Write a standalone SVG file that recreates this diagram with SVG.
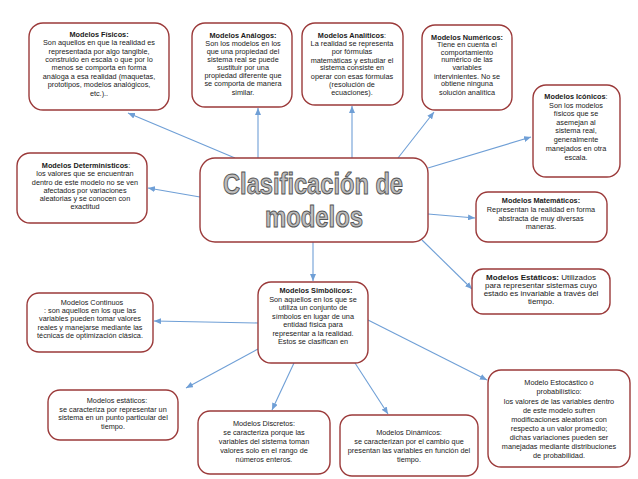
<svg xmlns="http://www.w3.org/2000/svg" width="638" height="479" viewBox="0 0 638 479">
<style>
.box{fill:#fff;stroke:#9b3a3a;stroke-width:1.4}
.t{font-family:"Liberation Sans",Arial,sans-serif;font-size:7.3px;fill:#1a1a1a;text-anchor:middle}
.a{font-size:8px}
.b{font-weight:bold}
.c{stroke:#6f9fd6;stroke-width:1.1;fill:none;marker-end:url(#arr)}
.title{font-family:"Liberation Sans",Arial,sans-serif;font-size:29px;font-weight:bold;fill:#bdbdbd;stroke:#555;stroke-width:1;text-anchor:middle}
</style>
<defs>
<marker id="arr" markerUnits="userSpaceOnUse" markerWidth="7" markerHeight="6" refX="7" refY="3" orient="auto">
<path d="M0,0 L7,3 L0,6 z" fill="#6f9fd6"/>
</marker>
</defs>
<rect width="638" height="479" fill="#fff"/>
<g id="connectors">
<line class="c" x1="235" y1="158" x2="128" y2="113"/>
<line class="c" x1="258" y1="158" x2="258" y2="108"/>
<line class="c" x1="352" y1="158" x2="352" y2="106"/>
<line class="c" x1="398" y1="158" x2="434" y2="112"/>
<line class="c" x1="428" y1="168" x2="531" y2="137"/>
<line class="c" x1="200" y1="197" x2="148" y2="188"/>
<line class="c" x1="428" y1="214" x2="475" y2="218"/>
<line class="c" x1="422" y1="240" x2="472" y2="289"/>
<line class="c" x1="313" y1="242" x2="313" y2="281"/>
<line class="c" x1="258" y1="323" x2="154" y2="321"/>
<line class="c" x1="258" y1="349" x2="186" y2="388"/>
<line class="c" x1="294" y1="363" x2="272" y2="410"/>
<line class="c" x1="355" y1="363" x2="388" y2="414"/>
<line class="c" x1="368" y1="320" x2="487" y2="380"/>
</g>
<g id="central">
<rect class="box" x="200" y="158" width="228" height="84" rx="15"/>
<text class="title" x="313" y="194" textLength="180" lengthAdjust="spacingAndGlyphs">Clasificación de</text>
<text class="title" x="314" y="227" textLength="98" lengthAdjust="spacingAndGlyphs">modelos</text>
</g>
<g id="fisicos">
<rect class="box" x="29" y="23" width="140" height="87" rx="14"/>
<text class="t"><tspan class="b" x="99" y="36.5">Modelos Físicos:</tspan><tspan x="99" y="45">Son aquellos en que la realidad es</tspan><tspan x="99" y="53.5">representada por algo tangible,</tspan><tspan x="99" y="62">construido en escala o que por lo</tspan><tspan x="99" y="70">menos se comporta en forma</tspan><tspan x="99" y="78.5">análoga a esa realidad (maquetas,</tspan><tspan x="99" y="87">prototipos, modelos analógicos,</tspan><tspan x="99" y="95.5">etc.)..</tspan></text>
</g>
<g id="analogos">
<rect class="box" x="192" y="23" width="100" height="84" rx="13"/>
<text class="t"><tspan class="b" x="243" y="37.5">Modelos Análogos:</tspan><tspan x="243" y="45.5">Son los modelos en los</tspan><tspan x="243" y="53.5">que una propiedad del</tspan><tspan x="243" y="61.5">sistema real se puede</tspan><tspan x="243" y="69.5">sustituir por una</tspan><tspan x="243" y="78">propiedad diferente que</tspan><tspan x="243" y="86">se comporta de manera</tspan><tspan x="243" y="94.5">similar.</tspan></text>
</g>
<g id="analiticos">
<rect class="box" x="302" y="23" width="101" height="82" rx="13"/>
<text class="t"><tspan x="352" y="37.5"><tspan class="b">Modelos Analíticos</tspan>:</tspan><tspan x="352" y="45.5">La realidad se representa</tspan><tspan x="352" y="54">por fórmulas</tspan><tspan x="352" y="62.5">matemáticas y estudiar el</tspan><tspan x="352" y="70">sistema consiste en</tspan><tspan x="352" y="78.5">operar con esas fórmulas</tspan><tspan x="352" y="86.5">(resolución de</tspan><tspan x="352" y="95">ecuaciones).</tspan></text>
</g>
<g id="numericos">
<rect class="box" x="422" y="25" width="90" height="85" rx="13"/>
<text class="t"><tspan class="b" x="467" y="39.5">Modelos Numéricos:</tspan><tspan x="467" y="47">Tiene en cuenta el</tspan><tspan x="467" y="54.5">comportamiento</tspan><tspan x="467" y="62">numérico de las</tspan><tspan x="467" y="70">variables</tspan><tspan x="467" y="78.5">intervinientes. No se</tspan><tspan x="467" y="86">obtiene ninguna</tspan><tspan x="467" y="94.5">solución analítica</tspan></text>
</g>
<g id="iconicos">
<rect class="box" x="533" y="85" width="87" height="92" rx="13"/>
<text class="t"><tspan x="576" y="98.5"><tspan class="b">Modelos Icónicos</tspan>:</tspan><tspan x="576" y="107.5">Son los modelos</tspan><tspan x="576" y="116">físicos que se</tspan><tspan x="576" y="125">asemejan al</tspan><tspan x="576" y="133">sistema real,</tspan><tspan x="576" y="142">generalmente</tspan><tspan x="576" y="151">manejados en otra</tspan><tspan x="576" y="159.5">escala.</tspan></text>
</g>
<g id="deterministicos">
<rect class="box" x="17" y="153" width="130" height="70" rx="13"/>
<text class="t"><tspan x="86" y="167.5"><tspan class="b">Modelos Determinísticos</tspan>:</tspan><tspan x="85" y="175.5">los valores que se encuentran</tspan><tspan x="85" y="184.5">dentro de este modelo no se ven</tspan><tspan x="85" y="192.5">afectados por variaciones</tspan><tspan x="85" y="200.5">aleatorias y se conocen con</tspan><tspan x="85" y="208.5">exactitud</tspan></text>
</g>
<g id="matematicos">
<rect class="box" x="476" y="192" width="131" height="50" rx="12"/>
<text class="t"><tspan class="b" x="541" y="202.5">Modelos Matemáticos:</tspan><tspan x="541" y="211.5">Representan la realidad en forma</tspan><tspan x="541" y="220.5">abstracta de muy diversas</tspan><tspan x="541" y="228.5">maneras.</tspan></text>
</g>
<g id="estaticos-der">
<rect class="box" x="472" y="269" width="138" height="45" rx="11"/>
<text class="t a"><tspan x="541" y="280"><tspan class="b">Modelos Estáticos: </tspan>Utilizados</tspan><tspan x="541" y="288">para representar sistemas cuyo</tspan><tspan x="541" y="296">estado es invariable a través del</tspan><tspan x="541" y="304">tiempo.</tspan></text>
</g>
<g id="simbolicos">
<rect class="box" x="258" y="282" width="110" height="81" rx="13"/>
<text class="t"><tspan class="b" x="316" y="292.5">Modelos Simbólicos:</tspan><tspan x="313" y="301.5">Son aquellos en los que se</tspan><tspan x="313" y="309.5">utiliza un conjunto de</tspan><tspan x="313" y="318.5">símbolos en lugar de una</tspan><tspan x="313" y="326.5">entidad física para</tspan><tspan x="313" y="335.5">representar a la realidad.</tspan><tspan x="313" y="343.5">Estos se clasifican en</tspan></text>
</g>
<g id="continuos">
<rect class="box" x="27" y="293" width="126" height="59" rx="12"/>
<text class="t"><tspan x="92" y="304.5">Modelos Continuos</tspan><tspan x="90" y="312.5">: son aquellos en los que las</tspan><tspan x="90" y="320.5">variables pueden tomar valores</tspan><tspan x="90" y="329.5">reales y manejarse mediante las</tspan><tspan x="90" y="337.5">técnicas de optimización clásica.</tspan></text>
</g>
<g id="estaticos-izq">
<rect class="box" x="48" y="390" width="130" height="50" rx="12"/>
<text class="t"><tspan x="117" y="402.5">Modelos estáticos:</tspan><tspan x="113" y="411.5">se caracteriza por representar un</tspan><tspan x="113" y="419.5">sistema en un  punto particular del</tspan><tspan x="113" y="428.5">tiempo.</tspan></text>
</g>
<g id="discretos">
<rect class="box" x="198" y="411" width="132" height="63" rx="12"/>
<text class="t"><tspan x="264" y="426">Modelos Discretos:</tspan><tspan x="264" y="435">se caracteriza porque las</tspan><tspan x="264" y="444">variables del sistema toman</tspan><tspan x="264" y="453">valores solo en el rango de</tspan><tspan x="264" y="462">números enteros.</tspan></text>
</g>
<g id="dinamicos">
<rect class="box" x="340" y="415" width="138" height="61" rx="12"/>
<text class="t"><tspan x="409" y="435">Modelos Dinámicos:</tspan><tspan x="409" y="444">se caracterizan por el cambio que</tspan><tspan x="409" y="453">presentan las variables en función del</tspan><tspan x="409" y="462">tiempo.</tspan></text>
</g>
<g id="estocastico">
<rect class="box" x="488" y="370" width="142" height="97" rx="13"/>
<text class="t"><tspan x="559" y="385">Modelo Estocástico o</tspan><tspan x="559" y="394">probabilístico:</tspan><tspan x="559" y="404">los valores de las variables dentro</tspan><tspan x="559" y="413">de este modelo sufren</tspan><tspan x="559" y="422">modificaciones aleatorias con</tspan><tspan x="559" y="431">respecto a un valor promedio;</tspan><tspan x="559" y="440">dichas variaciones pueden ser</tspan><tspan x="559" y="449">manejadas mediante distribuciones</tspan><tspan x="559" y="458">de probabilidad.</tspan></text>
</g>
</svg>
